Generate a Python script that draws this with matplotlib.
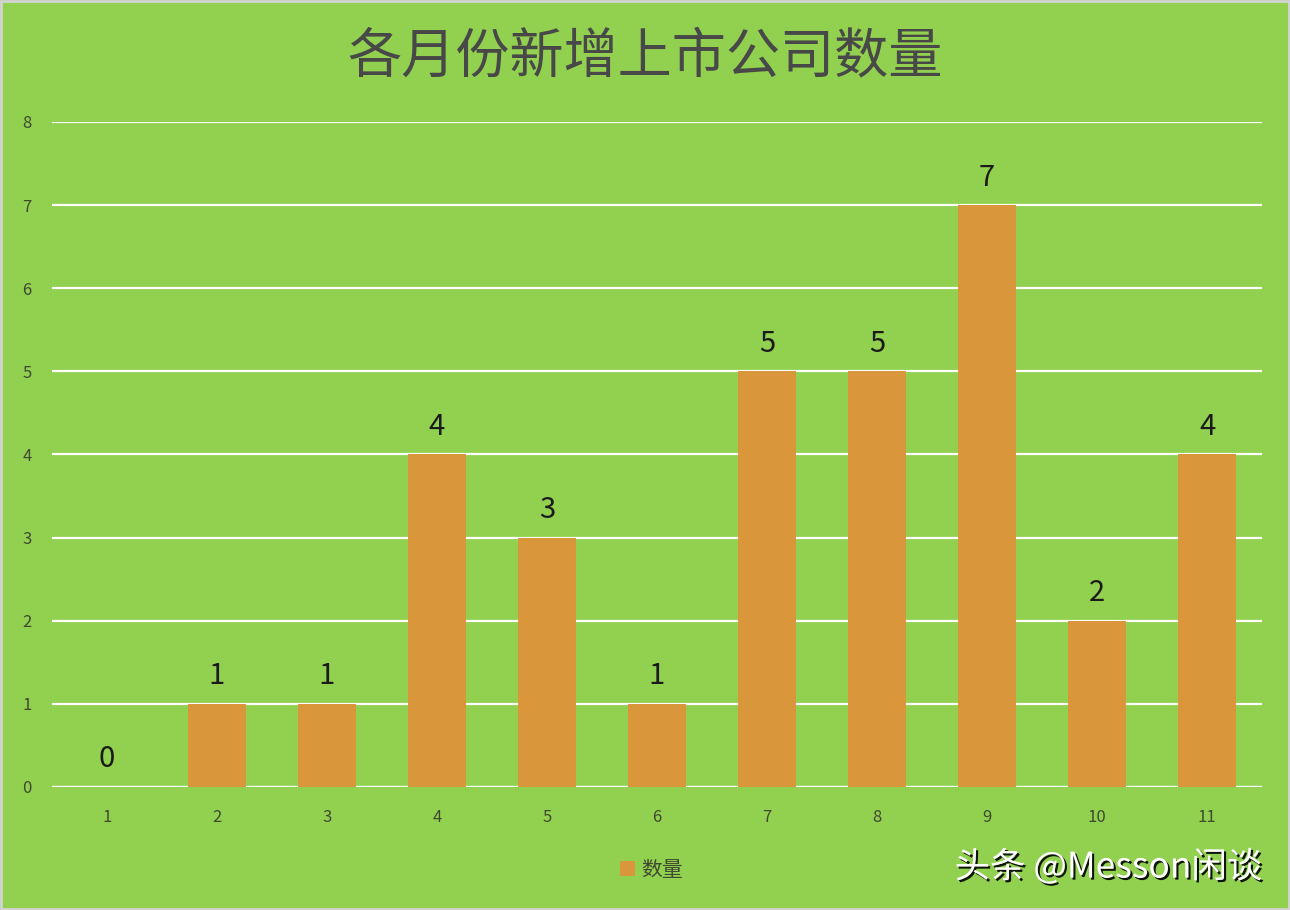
import matplotlib.pyplot as plt
import matplotlib.patheffects as pe
from matplotlib.patches import Rectangle

plt.rcParams['font.family'] = ['Noto Sans CJK SC', 'DejaVu Sans']

months = ['1', '2', '3', '4', '5', '6', '7', '8', '9', '10', '11']
counts = [0, 1, 1, 4, 3, 1, 5, 5, 7, 2, 4]
title = '各月份新增上市公司数量'
series_name = '数量'

bg = '#92D050'
bar_color = '#D9963A'
text_dark = '#404a30'

fig = plt.figure(figsize=(12.9, 9.1), dpi=100, facecolor=bg)
ax = fig.add_axes([0.0403, 0.1352, 0.9380, 0.7308])
ax.set_facecolor(bg)

x = range(len(months))
bars = ax.bar(x, counts, width=0.53, color=bar_color, zorder=3, label=series_name)

for xi, v in zip(x, counts):
    ax.annotate(str(v), (xi, v), xytext=(0, 9), textcoords='offset points',
                ha='center', va='bottom', fontsize=21, color='#1a1a1a')

ax.set_xlim(-0.5, len(months) - 0.5)
ax.set_ylim(0, 8)
ax.set_yticks(range(0, 9))
ax.set_xticks(list(x))
ax.set_xticklabels(months)
ax.grid(axis='y', color='white', linewidth=1.6, zorder=1)
ax.axhline(0, color='white', linewidth=1.6, zorder=2)
for s in ax.spines.values():
    s.set_visible(False)
ax.tick_params(axis='both', length=0, labelsize=12, colors=text_dark)
ax.tick_params(axis='y', pad=18)
ax.tick_params(axis='x', pad=16)
for lbl in ax.get_yticklabels():
    lbl.set_horizontalalignment('center')

fig.text(0.5, 0.937, title, ha='center', va='center', fontsize=39,
         fontweight='light', color='#484848')

fig.legend(handles=[bars], labels=[series_name], loc='center',
           bbox_to_anchor=(0.505, 0.044), frameon=False, fontsize=15,
           handlelength=0.7, handleheight=0.7, handletextpad=0.3,
           labelcolor=text_dark)

fig.text(0.740, 0.047, '头条 @Messon闲谈', ha='left', va='center', fontsize=25.5,
         color='white',
         path_effects=[pe.withSimplePatchShadow(offset=(1.5, -1.5), shadow_rgbFace='black', alpha=0.9)])

fig.patches.append(Rectangle((0.001, 0.001), 0.998, 0.998, transform=fig.transFigure,
                             fill=False, edgecolor='#d4d4d4', linewidth=2))

fig.savefig('out.png', dpi=100, facecolor=bg)
